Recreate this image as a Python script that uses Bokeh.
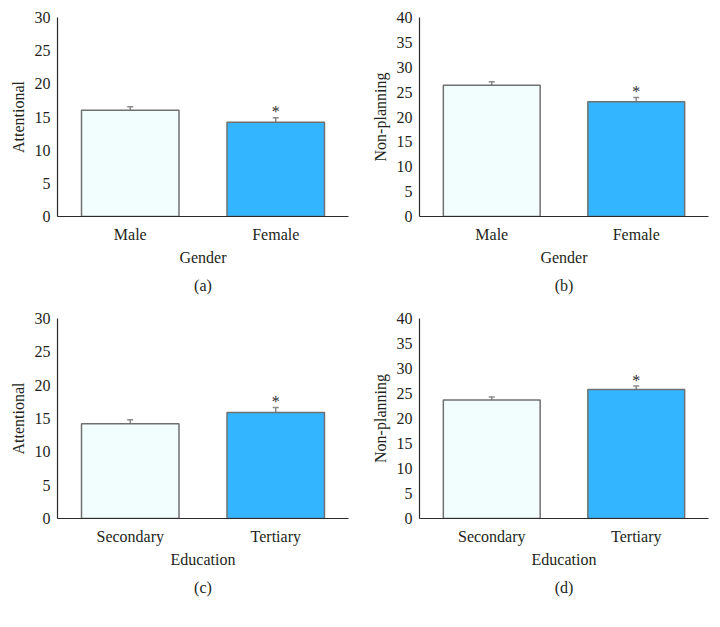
from bokeh.plotting import figure
from bokeh.layouts import column, row
from bokeh.models import ColumnDataSource, Whisker, FixedTicker, Title, Range1d, FactorRange, TeeHead
from bokeh.embed import file_html
from bokeh.resources import INLINE
from bokeh.core.properties import value

# ---- data ----
gender = ["Male", "Female"]
education = ["Secondary", "Tertiary"]
attn_gender = [16.0, 14.2]
attn_gender_err = [0.55, 0.7]
nonplan_gender = [26.4, 23.05]
nonplan_gender_err = [0.7, 0.85]
attn_edu = [14.2, 15.9]
attn_edu_err = [0.6, 0.75]
nonplan_edu = [23.7, 25.8]
nonplan_edu_err = [0.6, 0.7]
significance = ["", "*"]
attn_ticks = [0, 5, 10, 15, 20, 25, 30]
nonplan_ticks = [0, 5, 10, 15, 20, 25, 30, 35, 40]
bar_colors = ["#F2FEFD", "#33B5FF"]

FONT = "Liberation Serif"
TXT = "#231f20"


def panel(cats, vals, errs, ticks, ylabel, xlabel, tag, width, height, bl, br, bt, fh):
    src = ColumnDataSource(dict(
        cat=cats, val=vals, hi=[v + e for v, e in zip(vals, errs)],
        color=bar_colors, sig=significance))
    p = figure(x_range=FactorRange(*cats), y_range=Range1d(0, ticks[-1]),
               width=width, height=height, output_backend="svg",
               toolbar_location=None, min_border_left=bl, min_border_right=br,
               min_border_top=bt, min_border_bottom=height - bt - fh)
    p.vbar(x="cat", top="val", width=0.67, source=src, fill_color="color",
           line_color="#707070", line_width=1.5)
    wh = Whisker(base="cat", upper="hi", lower="val", source=src,
                 upper_head=TeeHead(size=6, line_color="#8a8a8a", line_width=1.5),
                 lower_head=None, line_color="#8a8a8a", line_width=1.5)
    p.add_layout(wh)
    p.text(x="cat", y="hi", text="sig", source=src, text_align="center",
           text_baseline="alphabetic", y_offset=-6,
           text_font=value(FONT), text_font_size="16px", text_color="#2b2b2b")
    p.xgrid.visible = False
    p.ygrid.visible = False
    p.outline_line_color = None
    p.background_fill_color = "white"
    p.border_fill_color = "white"
    for ax in (p.xaxis[0], p.yaxis[0]):
        ax.major_tick_out = 0
        ax.major_tick_in = 0
        ax.minor_tick_out = 0
        ax.minor_tick_in = 0
        ax.axis_line_color = "#2b2b2b"
        ax.axis_line_width = 1.2
        ax.major_label_text_font = FONT
        ax.major_label_text_font_size = "16px"
        ax.major_label_text_color = TXT
        ax.axis_label_text_font = FONT
        ax.axis_label_text_font_size = "16px"
        ax.axis_label_text_font_style = "normal"
        ax.axis_label_text_color = TXT
    p.yaxis.ticker = FixedTicker(ticks=ticks)
    p.yaxis.major_label_standoff = 7
    p.yaxis.axis_label = ylabel
    p.yaxis.axis_label_standoff = 5
    p.xaxis.major_label_standoff = 9
    p.xaxis.axis_label = xlabel
    p.xaxis.axis_label_standoff = 3
    t = Title(text=tag, align="center", text_font=FONT, text_font_size="16px",
              text_font_style="normal", text_color=TXT, standoff=13)
    p.add_layout(t, "below")
    return p


pa = panel(gender, attn_gender, attn_gender_err, attn_ticks, "Attentional", "Gender", "(a)",
           360, 308, 57, 12, 17, 199)
pb = panel(gender, nonplan_gender, nonplan_gender_err, nonplan_ticks, "Non-planning", "Gender", "(b)",
           360, 308, 59, 12, 17, 199)
pc = panel(education, attn_edu, attn_edu_err, attn_ticks, "Attentional", "Education", "(c)",
           360, 308, 57, 12, 10, 200)
pd = panel(education, nonplan_edu, nonplan_edu_err, nonplan_ticks, "Non-planning", "Education", "(d)",
           360, 308, 59, 12, 10, 200)

layout = column(row(pa, pb), row(pc, pd))
with open("out.html", "w") as f:
    f.write(file_html(layout, INLINE))
